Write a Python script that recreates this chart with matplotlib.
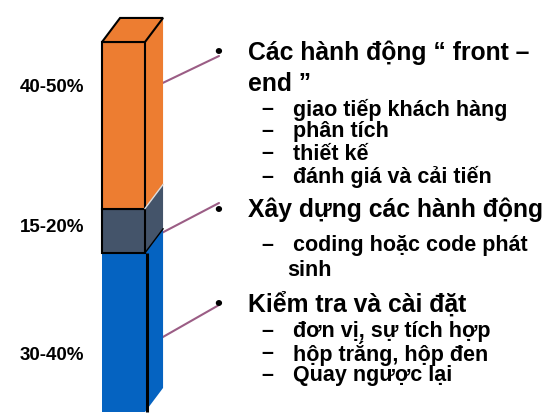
import numpy as np
import matplotlib
matplotlib.use("Agg")
from matplotlib import pyplot as plt
from matplotlib.patches import Polygon

plt.rcParams['font.family'] = ['Liberation Sans', 'DejaVu Sans']

# stacked bar, bottom to top
seg_names = ["test", "build", "front"]
seg_values = [43, 12, 45]
seg_labels = ["30-40%", "15-20%", "40-50%"]
seg_colors = ["#0563C1", "#44546A", "#ED7D31"]
# where each leader line touches the bar side (bar units), bottom to top
leader_y = [18.9, 47.3, 87.8]
leader_end = [305, 203, 56]

# right hand text: (kind, text, y pixel)
lines = [
    ("head", "Các hành động “ front –", 53),
    ("cont", "end ”", 84),
    ("sub", "giao tiếp khách hàng", 110),
    ("sub", "phân tích", 132),
    ("sub", "thiết kế", 154),
    ("sub", "đánh giá và cải tiến", 177),
    ("head", "Xây dựng các hành động", 210),
    ("sub", "coding hoặc code phát", 245),
    ("subc", "sinh", 270),
    ("head", "Kiểm tra và cài đặt", 304),
    ("sub", "đơn vị, sự tích hợp", 332),
    ("sub", "hộp trắng, hộp đen", 354),
    ("sub", "Quay ngược lại", 376),
]
bullet_y = [304, 210, 53]

W, H = 553, 418
fig = plt.figure(figsize=(W / 100, H / 100), dpi=100)

# overlay in pixel coords for the text
ax_t = fig.add_axes([0, 0, 1, 1])
ax_t.set_xlim(0, W)
ax_t.set_ylim(H, 0)
ax_t.axis('off')

# bar axes
ax = fig.add_axes([102 / W, 6 / H, 43 / W, 370 / H])
ax.set_xlim(0, 1)
ax.set_ylim(0, 100)
ax.axis('off')
dx = 0.42
dy = 6.5

bottoms = np.concatenate([[0], np.cumsum(seg_values)[:-1]])
for i, (v, b, c) in enumerate(zip(seg_values, bottoms, seg_colors)):
    ec = 'none' if i == 0 else 'black'
    ax.bar(0.5, v, width=1, bottom=b, color=c, edgecolor=ec, linewidth=1.5,
           clip_on=False, zorder=3)
    side = Polygon([(1, b), (1 + dx, b + dy), (1 + dx, b + v + dy), (1, b + v)],
                   closed=True, facecolor=c, edgecolor='none', clip_on=False, zorder=2)
    ax.add_patch(side)
    if i > 0:
        ax.plot([1, 1 + dx], [b, b + dy], color='#dddddd' if i == 2 else 'black',
                lw=1.0, clip_on=False, zorder=4)

top = sum(seg_values)
ax.add_patch(Polygon([(0, top), (1, top), (1 + dx, top + dy), (dx, top + dy)],
                     closed=True, facecolor=seg_colors[-1], edgecolor='black',
                     linewidth=1.5, clip_on=False, zorder=4))
ax.vlines(1.05, 0, seg_values[0], color='black', lw=2.2, zorder=5, clip_on=False)

# left labels
label_y = [355, 228, 88]
for lab, y in zip(seg_labels, label_y):
    ax_t.text(52, y, lab, fontsize=13.5, fontweight='bold', ha='center', va='center')

# leader lines
for ly, ey in zip(leader_y, leader_end):
    ax_t.annotate("", xy=(1.21, ly), xycoords=ax.transData,
                  xytext=(219, ey), textcoords=ax_t.transData,
                  arrowprops=dict(arrowstyle='-', color='#9B5D85', lw=1.5,
                                  shrinkA=0, shrinkB=0))

for by in bullet_y:
    ax_t.text(218, by, "•", fontsize=16, fontweight='bold', ha='center', va='center')

for kind, txt, y in lines:
    if kind in ("head", "cont"):
        ax_t.text(248, y, txt, fontsize=17.8, fontweight='bold', va='center')
    elif kind == "sub":
        ax_t.text(261, y, "–", fontsize=15.5, fontweight='bold', va='center')
        ax_t.text(293, y, txt, fontsize=15.5, fontweight='bold', va='center')
    else:
        ax_t.text(287, y, txt, fontsize=15.5, fontweight='bold', va='center')

fig.savefig("out.png", dpi=100)
